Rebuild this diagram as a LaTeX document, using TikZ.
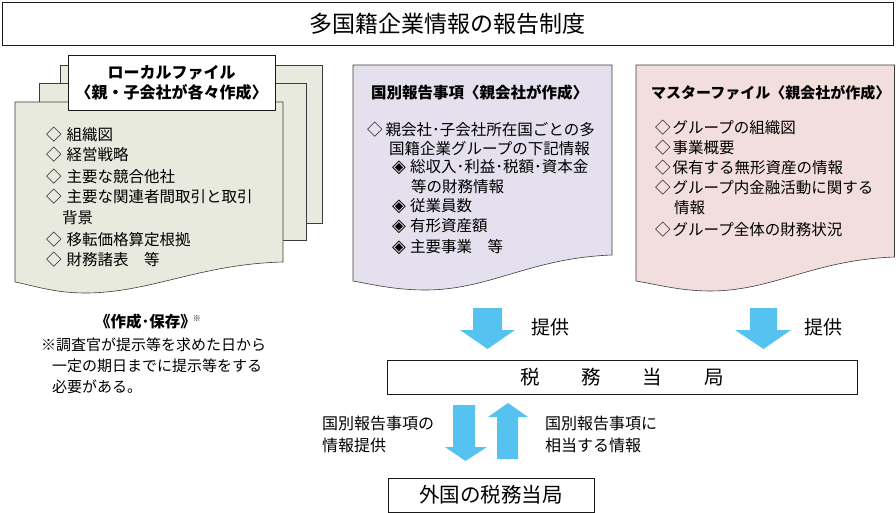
\documentclass[tikz,border=0pt]{standalone}
\usepackage{fontspec}
\setmainfont{Noto Sans CJK JP}
\newfontfamily\symfont{DejaVu Sans}
\newcommand\subdia{{\symfont\fontsize{18}{18}\selectfont ◈}}
\definecolor{lfcol}{RGB}{233,234,222}
\definecolor{cbcol}{RGB}{228,224,238}
\definecolor{mfcol}{RGB}{243,222,222}
\definecolor{arrowblue}{RGB}{86,194,240}
\definecolor{edgecol}{RGB}{60,60,60}
\begin{document}
\begin{tikzpicture}[x=1pt,y=-1pt,
  paper/.style={draw=edgecol,line width=0.6pt},
  box/.style={draw=black!90,line width=0.8pt},
  item/.style={anchor=west,inner sep=0pt,font=\fontsize{15.5}{18}\selectfont},
  note/.style={anchor=west,inner sep=0pt,font=\fontsize{15}{18}\selectfont},
  head/.style={anchor=west,inner sep=0pt,font=\bfseries\fontsize{15.5}{18}\selectfont},
  lab/.style={anchor=west,inner sep=0pt,font=\fontsize{16}{18}\selectfont},
  bigl/.style={inner sep=0pt,font=\fontsize{19}{22}\selectfont},
  barrow/.style={fill=arrowblue}]
\useasboundingbox (0,0) rectangle (896,513);

% title
\node[box,minimum width=891pt,minimum height=43pt,inner sep=0pt,font=\fontsize{23}{26}\selectfont] (title) at (447.5,23.5) {多国籍企業情報の報告制度};

% local file stack
\draw[paper,fill=lfcol] (60,65) rectangle (322,223);
\draw[paper,fill=lfcol] (39,83) rectangle (306,240);
\draw[paper,fill=lfcol] (15,102) -- (283,102) -- (283,262) .. controls (200,264) and (150,293) .. (85,293) .. controls (55,293) and (35,286) .. (15,282) -- cycle;
\node[box,fill=white,minimum width=207pt,minimum height=55pt,inner sep=0pt,align=center,font=\bfseries\fontsize{16}{20}\selectfont] (lf) at (171.5,82.5) {ローカルファイル\\〈親・子会社が各々作成〉};

\node[item] (l1) at (46,135) {◇\hspace{5pt}組織図};
\node[item] (l2) at (46,155) {◇\hspace{5pt}経営戦略};
\node[item] (l3) at (46,177) {◇\hspace{5pt}主要な競合他社};
\node[item] (l4) at (46,197) {◇\hspace{5pt}主要な関連者間取引と取引};
\node[item] (l5) at (62,218) {背景};
\node[item] (l6) at (46,240) {◇\hspace{5pt}移転価格算定根拠};
\node[item] (l7) at (46,260) {◇\hspace{5pt}財務諸表　等};

% country-by-country report
\draw[paper,fill=cbcol] (353,65) -- (612,65) -- (612,255) .. controls (530,258) and (490,290) .. (425,290) .. controls (395,290) and (370,284) .. (353,281) -- cycle;
\node[head] (cbh) at (371,93) {国別報告事項〈親会社が作成〉};
\node[item] (c1) at (367,130) {◇\hspace{3pt}親会社･子会社所在国ごとの多};
\node[item] (c2) at (389,149) {国籍企業グループの下記情報};
\node[item] (c3) at (392,167) {\subdia\hspace{4pt}総収入･利益･税額･資本金};
\node[item] (c4) at (411,187) {等の財務情報};
\node[item] (c5) at (392,206) {\subdia\hspace{4pt}従業員数};
\node[item] (c6) at (392,226) {\subdia\hspace{4pt}有形資産額};
\node[item] (c7) at (392,247) {\subdia\hspace{4pt}主要事業　等};

% master file
\draw[paper,fill=mfcol] (636,65) -- (894.5,65) -- (894.5,257) .. controls (813,260) and (773,291) .. (710,291) .. controls (680,291) and (655,284) .. (636,281) -- cycle;
\node[head,font=\bfseries\fontsize{15}{18}\selectfont] (mfh) at (651,93) {マスターファイル〈親会社が作成〉};
\node[item] (m1) at (655,128) {◇\hspace{2pt}グループの組織図};
\node[item] (m2) at (655,148) {◇\hspace{2pt}事業概要};
\node[item] (m3) at (655,168) {◇\hspace{2pt}保有する無形資産の情報};
\node[item] (m4) at (655,188) {◇\hspace{2pt}グループ内金融活動に関する};
\node[item] (m5) at (674,208) {情報};
\node[item] (m6) at (655,230) {◇\hspace{2pt}グループ全体の財務状況};

% notes
\node[inner sep=0pt,anchor=west,font=\bfseries\fontsize{15.5}{18}\selectfont] (nh) at (95,322) {《作成･保存》\hspace{-3pt}\raisebox{6pt}{\mdseries\fontsize{8}{9}\selectfont ※}};
\node[note] (n1) at (41,345) {※調査官が提示等を求めた日から};
\node[note] (n2) at (52,366) {一定の期日までに提示等をする};
\node[note] (n3) at (52,387) {必要がある。};

% arrows to tax authority
\fill[barrow] (473,308) -- (502,308) -- (502,330) -- (515,330) -- (487.5,349) -- (460,330) -- (473,330) -- cycle;
\fill[barrow] (750,308) -- (777,308) -- (777,330) -- (791,330) -- (763.5,349) -- (735,330) -- (750,330) -- cycle;
\node[bigl] (p1) at (550,327) {提供};
\node[bigl] (p2) at (823,327) {提供};

% tax authority
\node[box,minimum width=470pt,minimum height=34pt,inner sep=0pt,font=\fontsize{19.5}{22}\selectfont] (tax) at (622,377) {税\hspace{42pt}務\hspace{42pt}当\hspace{42pt}局};

% exchange arrows
\fill[barrow] (453,405) -- (475,405) -- (475,447) -- (487,447) -- (465.5,461) -- (445,447) -- (453,447) -- cycle;
\fill[barrow] (497,459) -- (518,459) -- (518,417) -- (528,417) -- (508,403) -- (488,417) -- (497,417) -- cycle;
\node[lab] (e1) at (322,423) {国別報告事項の};
\node[lab] (e2) at (322,445) {情報提供};
\node[lab] (e3) at (545,423) {国別報告事項に};
\node[lab] (e4) at (545,445) {相当する情報};

% foreign tax authority
\node[box,minimum width=206pt,minimum height=34pt,inner sep=0pt,font=\fontsize{20.5}{23}\selectfont] (foreign) at (491,495) {外国の税務当局};
\end{tikzpicture}
\end{document}
